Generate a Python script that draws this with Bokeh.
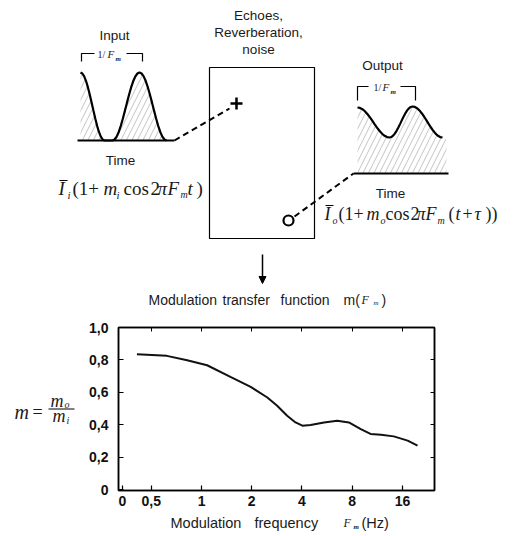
import numpy as np
from bokeh.plotting import figure
from bokeh.layouts import column, row
from bokeh.models import (Range1d, FixedTicker, CustomJSTickFormatter, LogAxis,
                          LinearAxis, Arrow, NormalHead)
from bokeh.core.properties import value
from bokeh.embed import file_html
from bokeh.resources import INLINE

# ---------------- chart data ----------------
freq_hz = [0.41, 0.62, 0.82, 1.08, 1.49, 1.97, 2.48, 2.84, 3.26, 3.66, 4.02,
           4.5, 5.42, 6.5, 7.64, 9.0, 10.3, 11.9, 14.2, 17.2, 19.7]
mtf = [0.835, 0.825, 0.798, 0.767, 0.695, 0.634, 0.568, 0.517, 0.455, 0.414,
       0.394, 0.398, 0.414, 0.425, 0.414, 0.373, 0.343, 0.338, 0.328, 0.302, 0.271]
x_tick_vals = [0.336, 0.5, 1, 2, 4, 8, 16]
x_tick_labels = ["0", "0,5", "1", "2", "4", "8", "16"]
y_tick_vals = [0, 0.2, 0.4, 0.6, 0.8, 1.0]
y_tick_labels = ["0", "0,2", "0,4", "0,6", "0,8", "1,0"]

# ---------------- schematic key points (peaks / troughs) ----------------
input_key_x = [80, 104, 112, 139, 166]
input_key_y = [72, 140, 140, 72, 140]
output_key_x = [357, 389, 412, 442]
output_key_y = [107, 137, 106, 137]

SANS = "Liberation Sans"
SERIF = "Liberation Serif"
INK = "#1a1a1a"


def wave(kx, ky, n=14):
    xs, ys = [], []
    for i in range(len(kx) - 1):
        s = np.linspace(0, 1, n)
        xs += list(kx[i] + (kx[i + 1] - kx[i]) * s)
        ys += list(ky[i] + (ky[i + 1] - ky[i]) * (1 - np.cos(np.pi * s)) / 2)
    return xs, ys


def txt(fig, x, y, s, size, font=SANS, style="normal", align="left", color=INK):
    fig.text(x=[x], y=[y], text=[s], text_font=value(font),
             text_font_size=f"{size}px", text_font_style=style,
             text_align=align, text_baseline="middle", text_color=color)


def blank(w, h, xr, yr):
    f = figure(width=w, height=h, x_range=Range1d(*xr), y_range=Range1d(*yr),
               output_backend="svg", toolbar_location=None,
               x_axis_location=None, y_axis_location=None, min_border=0)
    f.grid.visible = False
    f.outline_line_color = None
    return f


HATCH = dict(fill_color=None, line_color=None, hatch_pattern="/",
             hatch_color="#9a9a9a", hatch_weight=0.6, hatch_scale=11)

# ================= top schematic =================
top = blank(513, 312, (0, 513), (312, 0))

# input waveform
ix, iy = wave(input_key_x, input_key_y)
top.patch(ix + [166, 80], iy + [140, 140], **HATCH)
top.line(ix, iy, line_color="black", line_width=2.2)
top.line([77, 174], [140, 140], line_color="black", line_width=2)
top.multi_line([[81, 81, 94], [126, 142, 142]], [[61, 53, 53], [53, 53, 61]],
               line_color="black", line_width=1.2)
txt(top, 114, 35, "Input", 13.5, align="center")
txt(top, 97, 54, "1/", 10, font=SERIF)
txt(top, 107, 53.5, "F", 11, font=SERIF, style="italic")
txt(top, 115, 58, "m", 7, font=SERIF, style="bold italic")
txt(top, 120, 160, "Time", 13.5, align="center")

# input formula
top.segment(x0=[59], y0=[180], x1=[67], y1=[180], line_color="black", line_width=1)
for s, x, sz, st, ym in [("I", 58, 19, "italic", 188), ("i", 67, 11, "italic", 194),
                         ("(1+", 72, 19, "normal", 188), ("m", 103, 19, "italic", 188),
                         ("i", 116, 11, "italic", 194), ("cos", 123, 19, "normal", 188),
                         ("2", 150, 19, "normal", 188), ("π", 157, 19, "italic", 188),
                         ("F", 167, 19, "italic", 188), ("m", 180, 10, "italic", 194),
                         ("t", 187, 19, "italic", 188), (")", 196, 19, "normal", 188)]:
    txt(top, x, ym, s, sz, font=SERIF, style=st)

# central box
for s, y in [("Echoes,", 15), ("Reverberation,", 32), ("noise", 49)]:
    txt(top, 258, y, s, 13.5, align="center")
top.quad(left=209, right=314, top=67, bottom=238, fill_color=None,
         line_color="black", line_width=1.2)
top.line([174, 229], [140, 108], line_color="black", line_width=2, line_dash="6 4")
top.scatter([236], [103], marker="cross", size=12, line_color="black", line_width=2.5)
top.line([294, 353], [216, 173], line_color="black", line_width=2, line_dash="6 4")
top.scatter([288], [220], marker="circle", size=10, fill_color="white",
            line_color="black", line_width=2.2)
top.add_layout(Arrow(end=NormalHead(size=7, fill_color="black", line_color="black"),
                     x_start=262, y_start=254, x_end=262, y_end=283,
                     line_color="black", line_width=1.5))

# output waveform
ox, oy = wave(output_key_x, output_key_y)
top.patch(ox + [446, 446, 357], oy + [139, 173, 173], **HATCH)
top.line(ox, oy, line_color="black", line_width=2.2)
top.line([353, 448], [173, 173], line_color="black", line_width=2)
top.multi_line([[357, 357, 368], [400, 415, 415]], [[100, 86, 86], [86, 86, 100]],
               line_color="black", line_width=1.2)
txt(top, 382, 65, "Output", 13.5, align="center")
txt(top, 373, 87, "1/", 10, font=SERIF)
txt(top, 382, 86.5, "F", 11, font=SERIF, style="italic")
txt(top, 390, 91, "m", 7, font=SERIF, style="bold italic")
txt(top, 390, 193, "Time", 13.5, align="center")

# output formula
top.segment(x0=[325], y0=[205], x1=[333], y1=[205], line_color="black", line_width=1)
for s, x, sz, st, ym in [("I", 324, 18, "italic", 213), ("o", 332, 10, "italic", 219.5),
                         ("(1+", 338, 18, "normal", 213), ("m", 366, 18, "italic", 213),
                         ("o", 380, 10, "italic", 219.5), ("cos", 385, 18, "normal", 213),
                         ("2", 410, 18, "normal", 213), ("π", 416, 18, "italic", 213),
                         ("F", 425, 18, "italic", 213), ("m", 437, 10, "italic", 219.5),
                         ("(", 448, 18, "normal", 213), ("t", 455, 18, "italic", 213),
                         ("+", 462, 18, "normal", 213), ("τ", 474, 18, "italic", 213),
                         ("))", 485, 18, "normal", 213)]:
    txt(top, x, ym, s, sz, font=SERIF, style=st)

# title of the chart
for s, x in [("Modulation", 148), ("transfer", 222), ("function", 280), ("m(", 343)]:
    txt(top, x, 299, s, 14)
txt(top, 361, 299, "F", 12, font=SERIF, style="italic")
txt(top, 373, 302, "m", 7, font=SERIF, style="italic")
txt(top, 381, 299, ")", 14)

# ================= left label  m = m_o / m_i =================
left = blank(82, 200, (0, 82), (512, 312))
txt(left, 14, 416, "m", 20, font=SERIF, style="italic")
txt(left, 32, 416, "=", 18, font=SERIF)
left.segment(x0=[48], y0=[412], x1=[74], y1=[412], line_color="black", line_width=1)
txt(left, 50, 402, "m", 18, font=SERIF, style="italic")
txt(left, 64, 407, "o", 10, font=SERIF, style="italic")
txt(left, 52, 421, "m", 18, font=SERIF, style="italic")
txt(left, 66, 426, "i", 10, font=SERIF, style="italic")

# ================= MTF chart =================
JS = """
for (let i = 0; i < vals.length; i++) { if (Math.abs(vals[i] - tick) < 1e-6) return labs[i]; }
return "";
"""
fmt_x = CustomJSTickFormatter(args=dict(vals=x_tick_vals, labs=x_tick_labels), code=JS)
fmt_y = CustomJSTickFormatter(args=dict(vals=y_tick_vals, labs=y_tick_labels), code=JS)
fmt_blank = CustomJSTickFormatter(code='return "";')

chart = figure(width=431, height=200, x_axis_type="log",
               x_range=Range1d(0.318, 24.9), y_range=Range1d(-0.006, 1.0),
               output_backend="svg", toolbar_location=None,
               min_border_left=36, min_border_right=79, min_border_top=15,
               min_border_bottom=22)
chart.grid.visible = False
chart.outline_line_color = "black"
chart.outline_line_width = 1.5

chart.xaxis.ticker = FixedTicker(ticks=x_tick_vals)
chart.xaxis.formatter = fmt_x
chart.yaxis.ticker = FixedTicker(ticks=y_tick_vals)
chart.yaxis.formatter = fmt_y
for ax in (chart.xaxis[0], chart.yaxis[0]):
    ax.major_tick_in = 5
    ax.major_tick_out = 0
    ax.minor_tick_line_color = None
    ax.major_tick_line_color = "black"
    ax.major_tick_line_width = 1.2
    ax.axis_line_color = "black"
    ax.axis_line_width = 1.5
    ax.major_label_text_font = SANS
    ax.major_label_text_font_style = "bold"
    ax.major_label_text_font_size = "14px"
    ax.major_label_text_color = "#111111"
chart.xaxis.major_label_standoff = 5
chart.yaxis.major_label_standoff = 10

top_ax = LogAxis(ticker=FixedTicker(ticks=x_tick_vals[1:]), formatter=fmt_blank,
                 major_tick_in=4, major_tick_out=0, minor_tick_line_color=None,
                 major_label_standoff=0, axis_line_width=1.5)
right_ax = LinearAxis(ticker=FixedTicker(ticks=y_tick_vals[1:-1]), formatter=fmt_blank,
                      major_tick_in=4, major_tick_out=0, minor_tick_line_color=None,
                      major_label_standoff=0, axis_line_width=1.5)
chart.add_layout(top_ax, "above")
chart.add_layout(right_ax, "right")

chart.line(freq_hz, mtf, line_color="#111111", line_width=2)

# ================= x-axis label strip =================
bottom = blank(513, 24, (0, 513), (536, 512))
txt(bottom, 170, 522, "Modulation", 14.5)
txt(bottom, 254, 522, "frequency", 14.5)
txt(bottom, 343, 522, "F", 12, font=SERIF, style="italic")
txt(bottom, 353, 526, "m", 7, font=SERIF, style="bold italic")
txt(bottom, 361, 522, "(Hz)", 14.5)

layout = column(top, row(left, chart), bottom)
open("out.html", "w").write(file_html(layout, INLINE))
